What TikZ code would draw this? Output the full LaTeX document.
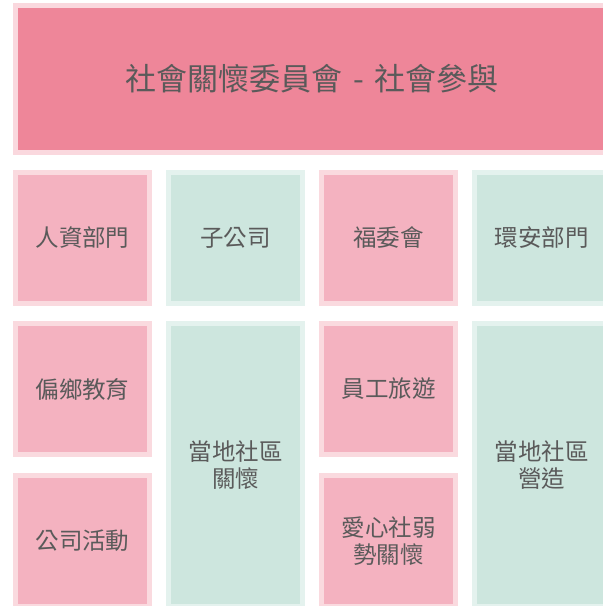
\documentclass[tikz,border=0pt]{standalone}
\usepackage{fontspec}
\setmainfont{Noto Sans CJK TC}
\definecolor{titlefill}{HTML}{EE8699}
\definecolor{titleedge}{HTML}{FAD8DE}
\definecolor{pinkfill}{HTML}{F4B2C0}
\definecolor{pinkedge}{HTML}{FADADF}
\definecolor{greenfill}{HTML}{CDE6DE}
\definecolor{greenedge}{HTML}{E4F2EE}
\definecolor{txt}{HTML}{5A5A5A}
\tikzset{
  cell/.style={rectangle, line width=5pt, inner sep=0pt, outer sep=0pt,
    minimum width=134pt, text=txt, align=center,
    font=\fontsize{23.5}{27}\selectfont},
  pinkcell/.style={cell, draw=pinkedge, fill=pinkfill},
  greencell/.style={cell, draw=greenedge, fill=greenfill},
  shortcell/.style={minimum height=131pt},
  tallcell/.style={minimum height=283pt},
  titlebox/.style={rectangle, line width=5pt, inner sep=0pt, outer sep=0pt,
    draw=titleedge, fill=titlefill, text=txt,
    minimum width=593pt, minimum height=147pt,
    font=\fontsize{31}{36}\selectfont}
}
\begin{document}
\begin{tikzpicture}[x=1pt,y=-1pt]
\useasboundingbox (0,0) rectangle (603,606);
\clip (0,0) rectangle (603,606);
\fill[white] (0,0) rectangle (603,606);
\node[titlebox] (title) at (312,79) {社會關懷委員會\hspace{0.35em}-\hspace{0.35em}社會參與};
% row 1
\node[pinkcell, shortcell] (hr) at (82.5,238) {人資部門};
\node[greencell, shortcell] (sub) at (235.5,238) {子公司};
\node[pinkcell, shortcell] (welfare) at (388.5,238) {福委會};
\node[greencell, shortcell] (env) at (541.5,238) {環安部門};
% row 2
\node[pinkcell, shortcell] (edu) at (82.5,389) {偏鄉教育};
\node[greencell, tallcell] (care) at (235.5,465) {當地社區\\關懷};
\node[pinkcell, shortcell] (trip) at (388.5,389) {員工旅遊};
\node[greencell, tallcell] (build) at (541.5,465) {當地社區\\營造};
% row 3
\node[pinkcell, shortcell] (act) at (82.5,541) {公司活動};
\node[pinkcell, shortcell] (weak) at (388.5,541) {愛心社弱\\勢關懷};
\end{tikzpicture}
\end{document}
